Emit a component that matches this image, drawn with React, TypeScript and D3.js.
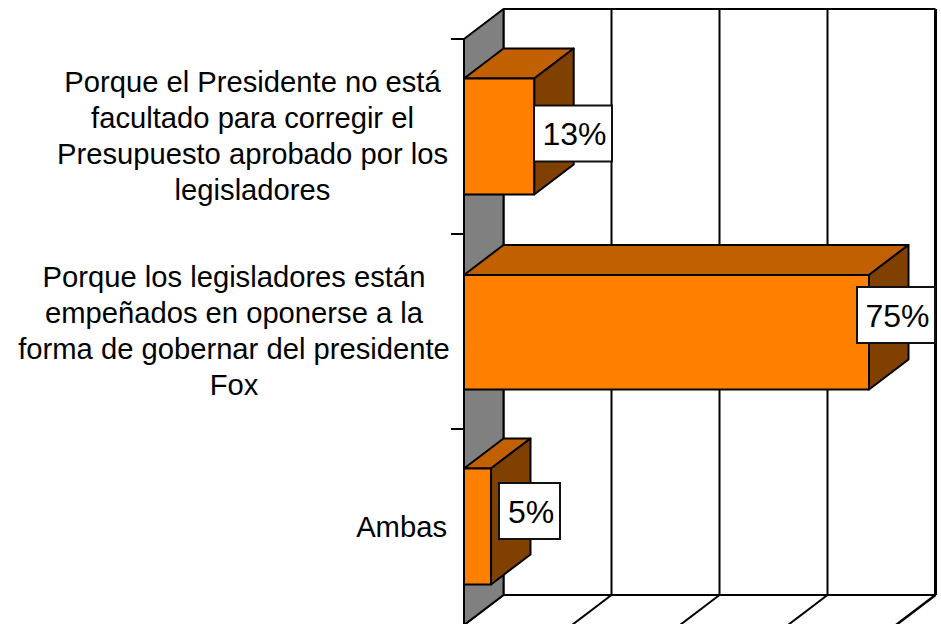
import React from "react";
import * as d3 from "d3";

const categories = ["a", "b", "c"];
const values = [13, 75, 5];
const valueLabels = ["13%", "75%", "5%"];
const categoryLines = [
  ["Porque el Presidente no está", "facultado para corregir el", "Presupuesto aprobado por los", "legisladores"],
  ["Porque los legisladores están", "empeñados en oponerse a la", "forma de gobernar del presidente", "Fox"],
  ["Ambas"],
];
const gridTicks = [0, 20, 40, 60, 80];

const FONT = "'Liberation Sans', Arial, sans-serif";
const DX = 39.5;
const DY = 30;
const ORANGE = "#FF8000";
const TOP = "#C06000";
const SIDE = "#804000";
const WALL = "#808080";
const SW = 2;

const labelBoxes = [
  { x: 534, y: 105.5, w: 78 },
  { x: 857, y: 287, w: 78 },
  { x: 499, y: 483, w: 61 },
];
const barTopNudge = [0, 1.5, 0];

export default function App() {
  const x = d3.scaleLinear().domain([0, 80]).range([464, 896]);
  const y = d3.scaleBand<string>().domain(categories).range([39, 624]).paddingInner(0.405).paddingOuter(0.2025);
  const step = y.step();
  const tickY = (i: number) => 39 + i * step;
  const poly = (pts: [number, number][]) => pts.map((p) => p.join(",")).join(" ");
  const backTop = 39 - DY;
  const backBottom = 625 - DY;
  const wallX = x(0);
  return (
    <svg width={941} height={624} style={{ position: "absolute", left: 0, top: 0, display: "block", background: "#fff" }} fontFamily={FONT}>
      <line x1={wallX + DX} x2={x(80) + DX} y1={backTop} y2={backTop} stroke="#000" strokeWidth={SW} />
      <line x1={wallX + DX} x2={x(80) + DX} y1={backBottom} y2={backBottom} stroke="#000" strokeWidth={SW} />
      {gridTicks.map((t) => (
        <g key={t}>
          <line x1={x(t) + DX} x2={x(t) + DX} y1={backTop} y2={backBottom} stroke="#000" strokeWidth={t === 80 ? 3 : SW} />
          <line x1={x(t) + DX} x2={x(t)} y1={backBottom} y2={backBottom + DY} stroke="#000" strokeWidth={t === 80 ? 2.5 : SW} />
        </g>
      ))}
      <polygon
        points={poly([[wallX, 39], [wallX + DX, backTop], [wallX + DX, backBottom], [wallX, backBottom + DY]])}
        fill={WALL}
        stroke="#000"
        strokeWidth={SW}
        strokeLinejoin="round"
      />
      {[0, 1, 2].map((i) => (
        <line key={i} x1={wallX - 13} x2={wallX} y1={tickY(i)} y2={tickY(i)} stroke="#000" strokeWidth={SW} />
      ))}
      {categories.map((c, i) => {
        const x0 = x(0);
        const x1 = x(values[i]);
        const y0 = y(c)! + barTopNudge[i];
        const y1 = y(c)! + y.bandwidth();
        return (
          <g key={c} stroke="#000" strokeWidth={SW} strokeLinejoin="round">
            <polygon points={poly([[x0, y0], [x0 + DX, y0 - DY], [x1 + DX, y0 - DY], [x1, y0]])} fill={TOP} />
            <polygon points={poly([[x1, y0], [x1 + DX, y0 - DY], [x1 + DX, y1 - DY], [x1, y1]])} fill={SIDE} />
            <rect x={x0} y={y0} width={x1 - x0} height={y1 - y0} fill={ORANGE} />
          </g>
        );
      })}
      {categories.map((c, i) => {
        const a = labelBoxes[i];
        return (
          <g key={c}>
            <rect x={a.x} y={a.y} width={a.w} height={56} fill="#fff" stroke="#111" strokeWidth={SW} />
            <text x={a.x + a.w / 2 + 1.5} y={a.y + 39.5} textAnchor="middle" fontSize={32} fill="#000">
              {valueLabels[i]}
            </text>
          </g>
        );
      })}
      {categoryLines.map((lines, i) => {
        const single = lines.length === 1;
        const base = [92, 287, 537][i];
        const cx = [252.5, 234, 447][i];
        return (
          <text key={i} fontSize={29.2} fill="#000" textAnchor={single ? "end" : "middle"}>
            {lines.map((l, j) => (
              <tspan key={j} x={cx} y={base + j * 36}>
                {l}
              </tspan>
            ))}
          </text>
        );
      })}
    </svg>
  );
}
